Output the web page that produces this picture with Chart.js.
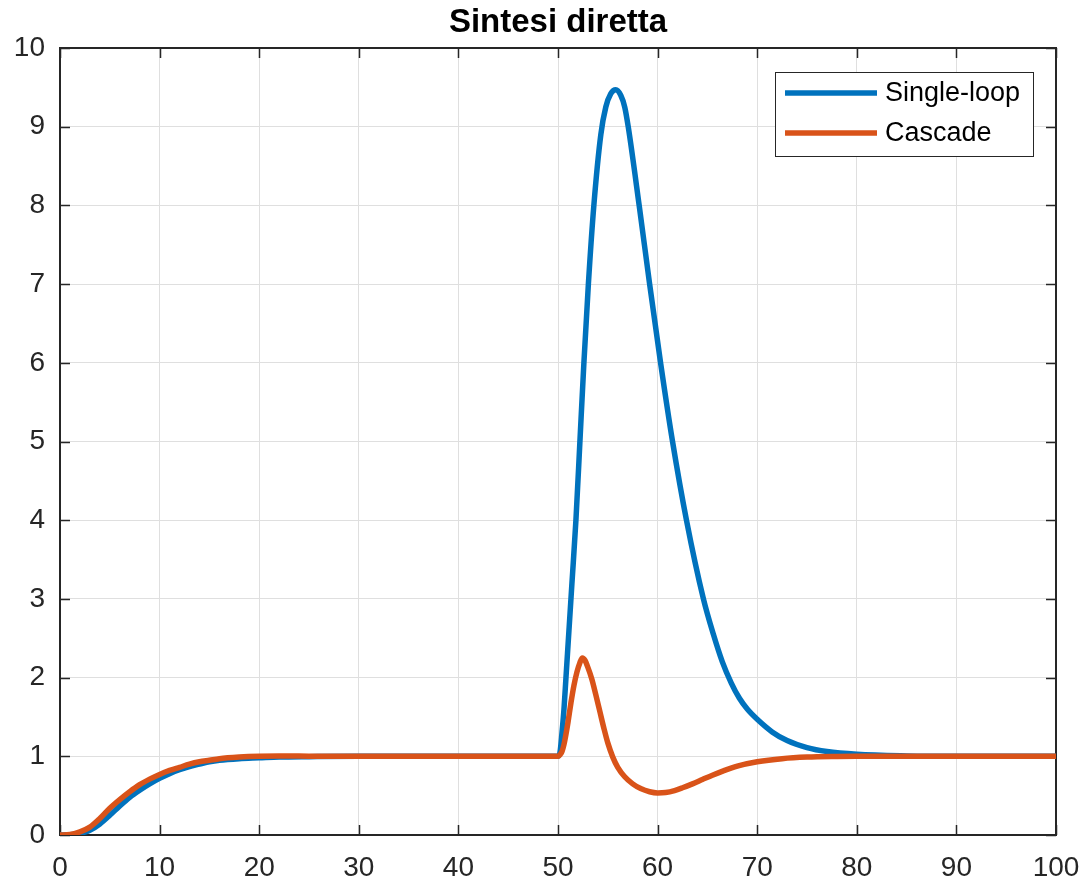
<!DOCTYPE html>
<html>
<head>
<meta charset="utf-8">
<script src="https://cdn.jsdelivr.net/npm/chart.js@4/dist/chart.umd.min.js"></script>
<style>
  html, body { margin: 0; padding: 0; background: #fff; }
  #wrap { width: 1085px; height: 882px; position: relative; }
</style>
</head>
<body>
<div id="wrap"><canvas id="c"></canvas></div>
<script>
// ---- data ----
const titleText = "Sintesi diretta";
const seriesNames = ["Single-loop", "Cascade"];

const tSingle = [0,1,2,3,4,5,6,7,8,9,10,11,12,13,14,15,16,18,20,22,25,30,40,50,
  50.2,50.4,50.6,50.8,51.1,51.4,51.8,52.2,52.6,53.05,53.6,54.3,54.8,55.3,55.8,56.3,56.7,57.05,58.15,59.2,60.3,61.5,62.9,64.6,65.6,66.5,67.4,68.2,69,70,71.5,73,75,77,80,85,90,100];
const ySingle = [0,0.003,0.02,0.06,0.14,0.25,0.37,0.48,0.57,0.65,0.72,0.78,0.83,0.87,0.9,0.93,0.95,0.97,0.98,0.99,0.995,1,1,1,
  1.05,1.3,1.6,2.0,2.6,3.2,4.0,5.0,6.0,7.0,8.0,8.9,9.25,9.42,9.47,9.4,9.25,9.0,8.0,7.0,6.0,5.0,4.0,3.0,2.55,2.2,1.93,1.74,1.6,1.47,1.31,1.2,1.11,1.06,1.025,1.005,1.0,1.0];

const tCascade = [0,1,2,3,4,5,6,7,8,9,10,11,12,13,14,15,16,18,20,22,25,30,40,50,
  50.2,50.4,50.6,50.8,51.0,51.3,51.6,51.9,52.2,52.45,52.7,53.0,53.4,53.8,54.2,54.6,55.0,55.5,56.0,56.7,57.5,58.3,59.2,60,60.8,61.7,62.5,63.5,64.5,65.5,66.6,68,70,72.5,75,78,80,90,100];
const yCascade = [0,0.005,0.04,0.1,0.21,0.34,0.45,0.55,0.64,0.71,0.77,0.82,0.86,0.9,0.93,0.95,0.97,0.99,1.0,1.003,1.002,1,1,1,
  1.02,1.06,1.15,1.28,1.43,1.68,1.9,2.07,2.19,2.25,2.22,2.13,1.98,1.78,1.57,1.36,1.17,0.99,0.86,0.74,0.65,0.59,0.55,0.535,0.54,0.565,0.6,0.65,0.705,0.76,0.815,0.875,0.93,0.97,0.99,0.998,1.0,1.0,1.0];

const xTicks = [0,10,20,30,40,50,60,70,80,90,100];
const yTicks = [0,1,2,3,4,5,6,7,8,9,10];

const colors = ["#0072BD", "#D95319"];
const FONT = "'Liberation Sans', Arial, Helvetica, sans-serif";
const AX = "#262626";

function pts(t, y) { return t.map((v, i) => ({ x: v, y: y[i] })); }

const boxPlugin = {
  id: 'matlabBox',
  beforeDatasetsDraw(chart) {
    const { ctx, chartArea: a, scales: { x, y } } = chart;
    ctx.save();
    ctx.strokeStyle = AX;
    ctx.lineWidth = 1.5;
    const L = 10;
    ctx.beginPath();
    xTicks.forEach(v => {
      const px = Math.round(x.getPixelForValue(v)) + 0.5;
      ctx.moveTo(px, a.bottom); ctx.lineTo(px, a.bottom - L);
      ctx.moveTo(px, a.top); ctx.lineTo(px, a.top + L);
    });
    yTicks.forEach(v => {
      const py = Math.round(y.getPixelForValue(v)) + 0.5;
      ctx.moveTo(a.left, py); ctx.lineTo(a.left + L, py);
      ctx.moveTo(a.right, py); ctx.lineTo(a.right - L, py);
    });
    ctx.stroke();
    ctx.lineWidth = 2;
    ctx.strokeRect(a.left, a.top, a.right - a.left, a.bottom - a.top);
    ctx.restore();
  },
  afterDraw(chart) {
    const { ctx, chartArea: a } = chart;
    ctx.save();
    // title, centred over the plot area
    ctx.font = "bold 33px " + FONT;
    ctx.fillStyle = "#000";
    ctx.textAlign = "center";
    ctx.textBaseline = "alphabetic";
    ctx.fillText(titleText, (a.left + a.right) / 2, a.top - 16);
    // legend
    ctx.textAlign = "left";
    const w = 258, h = 84;
    const bx = a.right - 23 - w, by = a.top + 24;
    ctx.fillStyle = "#fff";
    ctx.fillRect(bx, by, w, h);
    ctx.strokeStyle = AX;
    ctx.lineWidth = 1;
    ctx.strokeRect(bx + 0.5, by + 0.5, w, h);
    ctx.font = "27px " + FONT;
    ctx.textBaseline = "middle";
    ctx.fillStyle = "#000";
    chart.data.datasets.forEach((ds, i) => {
      const ry = by + 21 + i * 40;
      ctx.strokeStyle = ds.borderColor;
      ctx.lineWidth = 5.5;
      ctx.beginPath();
      ctx.moveTo(bx + 10, ry); ctx.lineTo(bx + 102, ry);
      ctx.stroke();
      ctx.fillText(ds.label, bx + 110, ry + 1);
    });
    ctx.restore();
  }
};

new Chart(document.getElementById('c'), {
  type: 'line',
  data: {
    datasets: [
      { label: seriesNames[0], data: pts(tSingle, ySingle), borderColor: colors[0], backgroundColor: colors[0],
        borderWidth: 5.5, pointRadius: 0, cubicInterpolationMode: 'monotone', fill: false, order: 1 },
      { label: seriesNames[1], data: pts(tCascade, yCascade), borderColor: colors[1], backgroundColor: colors[1],
        borderWidth: 5.5, pointRadius: 0, cubicInterpolationMode: 'monotone', fill: false, order: 0 }
    ]
  },
  options: {
    responsive: true,
    maintainAspectRatio: false,
    animation: false,
    layout: { padding: { left: 0, right: 29, top: 48, bottom: 0 } },
    plugins: {
      legend: { display: false },
      tooltip: { enabled: false },
      title: { display: false }
    },
    scales: {
      x: {
        type: 'linear', min: 0, max: 100,
        afterBuildTicks: s => { s.ticks = xTicks.map(v => ({ value: v })); },
        afterFit: s => { s.height = 47; s.paddingLeft = 0; s.paddingRight = 0; },
        ticks: { color: AX, font: { family: FONT, size: 28 }, padding: 16, maxRotation: 0, autoSkip: false },
        grid: { color: "#dfdfdf", lineWidth: 1, drawTicks: false },
        border: { display: false }
      },
      y: {
        type: 'linear', min: 0, max: 10,
        afterBuildTicks: s => { s.ticks = yTicks.map(v => ({ value: v })); },
        afterFit: s => { s.width = 60; s.paddingTop = 0; s.paddingBottom = 0; },
        ticks: { color: AX, font: { family: FONT, size: 28 }, padding: 15, autoSkip: false },
        grid: { color: "#dfdfdf", lineWidth: 1, drawTicks: false },
        border: { display: false }
      }
    }
  },
  plugins: [boxPlugin]
});
</script>
</body>
</html>
